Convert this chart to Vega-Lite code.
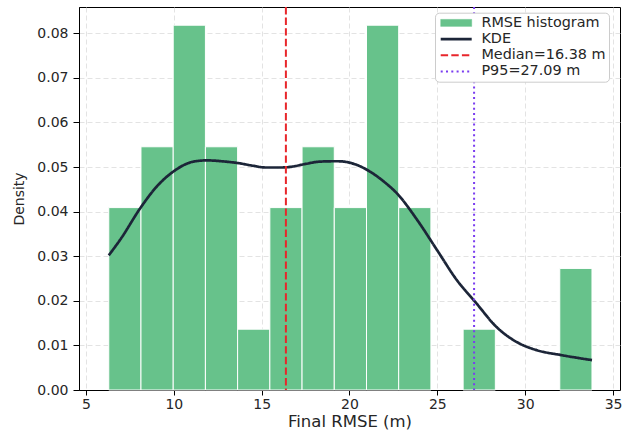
{
  "$schema": "https://vega.github.io/schema/vega-lite/v6.json",
  "width": 541,
  "height": 383,
  "autosize": {"type": "none"},
  "padding": {"left": 79, "top": 7, "right": 4, "bottom": 42},
  "background": "white",
  "config": {
    "font": "DejaVu Sans",
    "view": {"stroke": "#000000", "strokeWidth": 1},
    "axis": {
      "grid": true,
      "gridColor": "#dcdcdc",
      "gridDash": [5, 3],
      "gridWidth": 0.8,
      "domainColor": "#000000",
      "tickColor": "#000000",
      "tickSize": 6,
      "labelColor": "#262626",
      "labelFontSize": 14,
      "labelFont": "DejaVu Sans",
      "titleFont": "DejaVu Sans",
      "titleFontSize": 15,
      "titleFontWeight": "normal",
      "titleColor": "#262626"
    },
    "legend": {
      "orient": "none",
      "legendX": 356,
      "legendY": 5.7,
      "padding": 3,
      "strokeColor": "#cccccc",
      "fillColor": "white",
      "cornerRadius": 4,
      "labelFontSize": 14.4,
      "labelFont": "DejaVu Sans",
      "labelColor": "#262626",
      "symbolSize": 60,
      "symbolType": "M-4,0H4",
      "symbolStrokeWidth": 2.2,
      "symbolOffset": 11,
      "labelOffset": 18,
      "rowPadding": 1.2
    }
  },
  "layer": [
    {
      "data": {
        "values": [
          {"bin_start": 6.3, "bin_end": 8.133, "density": 0.04091},
          {"bin_start": 8.133, "bin_end": 9.967, "density": 0.05455},
          {"bin_start": 9.967, "bin_end": 11.8, "density": 0.08182},
          {"bin_start": 11.8, "bin_end": 13.633, "density": 0.05455},
          {"bin_start": 13.633, "bin_end": 15.467, "density": 0.01364},
          {"bin_start": 15.467, "bin_end": 17.3, "density": 0.04091},
          {"bin_start": 17.3, "bin_end": 19.133, "density": 0.05455},
          {"bin_start": 19.133, "bin_end": 20.967, "density": 0.04091},
          {"bin_start": 20.967, "bin_end": 22.8, "density": 0.08182},
          {"bin_start": 22.8, "bin_end": 24.633, "density": 0.04091},
          {"bin_start": 26.467, "bin_end": 28.3, "density": 0.01364},
          {"bin_start": 31.967, "bin_end": 33.8, "density": 0.02727}
        ]
      },
      "mark": {"type": "bar", "fill": "#67c28b", "stroke": "#ffffff", "strokeWidth": 1, "orient": "vertical"},
      "encoding": {
        "x": {
          "field": "bin_start",
          "type": "quantitative",
          "scale": {"domain": [4.89, 35.11], "nice": false, "zero": false},
          "axis": {"values": [5, 10, 15, 20, 25, 30, 35], "format": "d", "title": "Final RMSE (m)", "tickSize": 5, "labelPadding": 2, "titlePadding": 2.5, "titleFontSize": 16.5}
        },
        "x2": {"field": "bin_end"},
        "y": {
          "field": "density",
          "type": "quantitative",
          "scale": {"domain": [0, 0.0859], "nice": false},
          "axis": {"values": [0, 0.01, 0.02, 0.03, 0.04, 0.05, 0.06, 0.07, 0.08], "format": ".2f", "title": "Density", "labelPadding": 5, "titlePadding": 10, "titleFontSize": 14}
        },
        "y2": {"datum": 0}
      }
    },
    {
      "data": {
        "values": [
          {"x": 6.3, "y": 0.0302, "series": "KDE"},
          {"x": 7.0, "y": 0.034, "series": "KDE"},
          {"x": 8.13, "y": 0.041, "series": "KDE"},
          {"x": 9.0, "y": 0.0455, "series": "KDE"},
          {"x": 9.94, "y": 0.0489, "series": "KDE"},
          {"x": 11.1, "y": 0.0512, "series": "KDE"},
          {"x": 11.87, "y": 0.0515, "series": "KDE"},
          {"x": 13.0, "y": 0.0512, "series": "KDE"},
          {"x": 13.65, "y": 0.0509, "series": "KDE"},
          {"x": 14.5, "y": 0.0503, "series": "KDE"},
          {"x": 15.25, "y": 0.0499, "series": "KDE"},
          {"x": 16.0, "y": 0.0499, "series": "KDE"},
          {"x": 16.55, "y": 0.05, "series": "KDE"},
          {"x": 17.5, "y": 0.0507, "series": "KDE"},
          {"x": 18.24, "y": 0.0512, "series": "KDE"},
          {"x": 19.0, "y": 0.0513, "series": "KDE"},
          {"x": 19.36, "y": 0.0513, "series": "KDE"},
          {"x": 20.1, "y": 0.0509, "series": "KDE"},
          {"x": 21.2, "y": 0.0489, "series": "KDE"},
          {"x": 22.0, "y": 0.0466, "series": "KDE"},
          {"x": 22.7, "y": 0.0441, "series": "KDE"},
          {"x": 23.86, "y": 0.0381, "series": "KDE"},
          {"x": 24.98, "y": 0.0314, "series": "KDE"},
          {"x": 26.1, "y": 0.0247, "series": "KDE"},
          {"x": 27.23, "y": 0.0194, "series": "KDE"},
          {"x": 28.35, "y": 0.0142, "series": "KDE"},
          {"x": 29.5, "y": 0.0108, "series": "KDE"},
          {"x": 30.6, "y": 0.009, "series": "KDE"},
          {"x": 32.1, "y": 0.0078, "series": "KDE"},
          {"x": 33.8, "y": 0.0067, "series": "KDE"}
        ]
      },
      "mark": {"type": "line", "interpolate": "monotone", "strokeWidth": 2.7},
      "encoding": {
        "x": {"field": "x", "type": "quantitative"},
        "y": {"field": "y", "type": "quantitative"},
        "color": {
          "field": "series",
          "type": "nominal",
          "scale": {"domain": ["RMSE histogram", "KDE", "Median=16.38 m", "P95=27.09 m"], "range": ["#67c28b", "#1c2538", "#e8262b", "#7a3cf0"]},
          "legend": {
            "title": null,
            "symbolType": "M-4,0H4",
            "encode": {
              "symbols": {
                "update": {
                  "shape": {"signal": "datum.value === 'RMSE histogram' ? 'M-4,-0.9H4V0.9H-4Z' : 'M-4,0H4'"},
                  "fill": {"signal": "datum.value === 'RMSE histogram' ? '#67c28b' : 'transparent'"},
                  "strokeWidth": {"signal": "datum.value === 'RMSE histogram' ? 0.5 : (datum.value === 'KDE' ? 2.7 : 2)"}
                }
              }
            }
          }
        },
        "strokeDash": {
          "field": "series",
          "type": "nominal",
          "scale": {"domain": ["RMSE histogram", "KDE", "Median=16.38 m", "P95=27.09 m"], "range": [[1, 0], [1, 0], [7.4, 3.2], [2, 3.3]]},
          "legend": {"title": null}
        }
      }
    },
    {
      "data": {
        "values": [
          {"x": 16.38, "series": "Median=16.38 m"},
          {"x": 27.09, "series": "P95=27.09 m"}
        ]
      },
      "mark": {"type": "rule", "strokeWidth": 2},
      "encoding": {
        "x": {"field": "x", "type": "quantitative"},
        "color": {"field": "series", "type": "nominal", "legend": {"title": null, "symbolType": "M-4,0H4"}},
        "strokeDash": {"field": "series", "type": "nominal", "legend": {"title": null}}
      }
    }
  ]
}
